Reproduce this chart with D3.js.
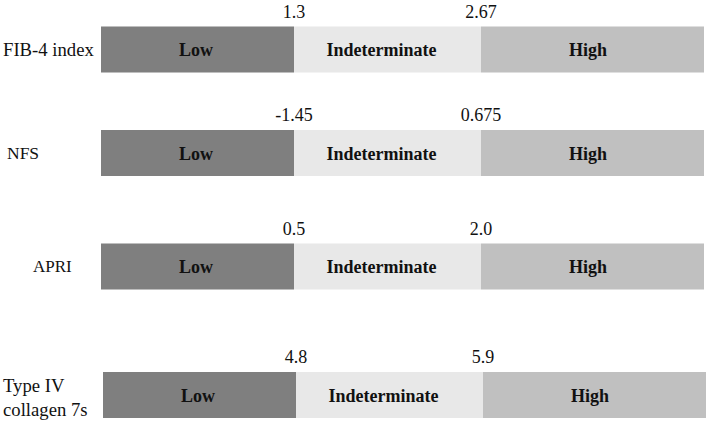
<!DOCTYPE html>
<html><head><meta charset="utf-8">
<script src="https://cdn.jsdelivr.net/npm/d3@7"></script>
<style>html,body{margin:0;padding:0;background:#fff;}svg{display:block;}</style>
</head><body>
<script>
// ---- data ----
const scores = ["FIB-4 index", "NFS", "APRI", "Type IV collagen 7s"];
const scoreLines = [["FIB-4 index"], ["NFS"], ["APRI"], ["Type IV", "collagen 7s"]];
const segments = ["Low", "Indeterminate", "High"];
const lowerCutoffs = ["1.3", "-1.45", "0.5", "4.8"];
const upperCutoffs = ["2.67", "0.675", "2.0", "5.9"];

// ---- layout ----
const W = 709, H = 425;
const rowTop = [26.5, 130, 243.5, 372];
const rowShift = [0, 0, 0, 2];
const barH = 46;
const labelX = [3, 7, 33, 3];
const labelSize = [18.7, 17.5, 17, 18.7];
const labelDy = [0, 0, 0, 3];
const colors = {"Low": "#7f7f7f", "Indeterminate": "#e8e8e8", "High": "#c0c0c0"};

const edge = d3.scaleOrdinal().domain(segments.concat(["end"])).range([101, 294, 481, 704]);
const segEnd = s => edge(segments[segments.indexOf(s) + 1] || "end");
const y = d3.scaleOrdinal().domain(scores).range(rowTop);

const svg = d3.select("body").append("svg").attr("width", W).attr("height", H)
  .style("font-family", "'Liberation Serif','Times New Roman',serif");

scores.forEach((sc, i) => {
  const g = svg.append("g").attr("transform", `translate(${rowShift[i]},${y(sc)})`);
  g.selectAll("rect").data(segments).join("rect")
    .attr("x", s => edge(s)).attr("width", s => segEnd(s) - edge(s))
    .attr("y", 0).attr("height", barH)
    .attr("fill", s => colors[s]);
  g.selectAll("text.seg").data(segments).join("text").attr("class", "seg")
    .attr("x", s => (edge(s) + segEnd(s)) / 2 - (s === "Low" ? 1.5 : s === "High" ? 4.5 : 6))
    .attr("y", barH / 2 + 6.5)
    .attr("text-anchor", "middle").attr("font-size", 18).attr("font-weight", "bold")
    .attr("fill", "#111").text(s => s);
  // cutoff labels
  const cut = [[edge("Indeterminate"), lowerCutoffs[i]], [edge("High"), upperCutoffs[i]]];
  g.selectAll("text.cut").data(cut).join("text").attr("class", "cut")
    .attr("x", d => d[0]).attr("y", -9)
    .attr("text-anchor", "middle").attr("font-size", 18).attr("fill", "#111")
    .text(d => d[1]);
  // row label
  const lines = scoreLines[i];
  const t = svg.append("text").attr("x", labelX[i]).attr("font-size", labelSize[i]).attr("fill", "#111");
  lines.forEach((ln, k) => {
    const base = y(sc) + barH / 2 + labelSize[i] * 0.34 + labelDy[i] + (k - (lines.length - 1) / 2) * 24;
    t.append("tspan").attr("x", labelX[i]).attr("y", base).text(ln);
  });
});
</script>
</body></html>
